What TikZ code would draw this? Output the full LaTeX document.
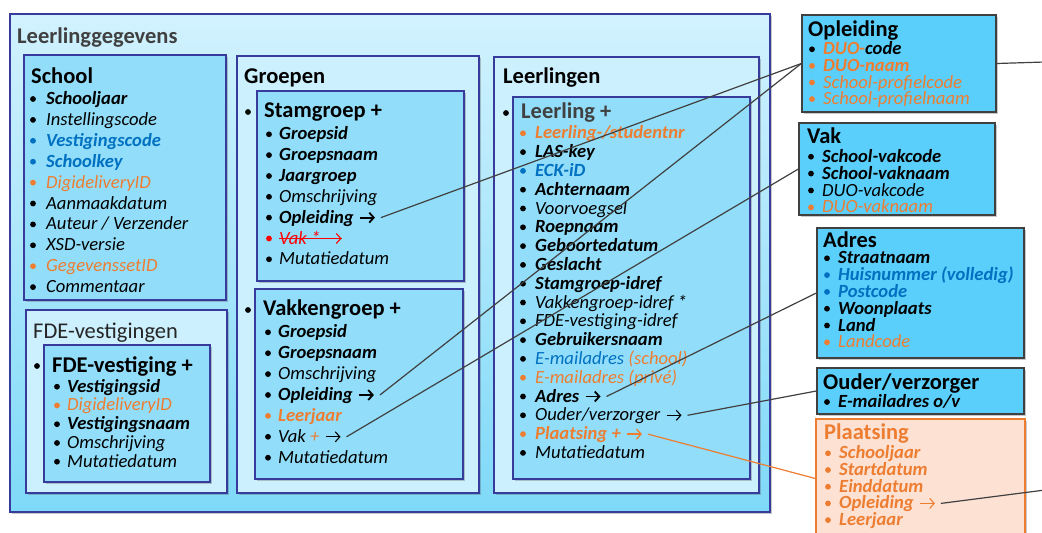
\documentclass[tikz,border=0pt]{standalone}
\usepackage{fontspec}
\setmainfont{Carlito}
\usetikzlibrary{arrows.meta,shadows,calc}
\definecolor{org}{HTML}{ED7D31}
\definecolor{blu}{HTML}{0070C0}
\definecolor{navy}{HTML}{363B9C}
\definecolor{dgray}{HTML}{404040}
\definecolor{midfill}{HTML}{CDF0FE}
\definecolor{entfill}{HTML}{92DEFA}
\definecolor{extfill}{HTML}{5BCFFB}
\definecolor{plfill}{HTML}{FDE1D3}
\definecolor{outtop}{HTML}{D2F2FE}
\definecolor{outbot}{HTML}{7ED9F8}
\newcommand\bi[1]{{\bfseries\itshape #1}}
\newcommand\ii[1]{{\itshape #1}}
\newcommand\itm[6]{\node[dot, fill=#5] (#1b) at (#2,#4-5.5) {};
  \node[txt] (#1) at (#3,#4) {#6};}
\newcommand\arrw[4]{\draw[#2, line width=#3, -{Straight Barb[length=4.5pt,width=10pt]}]
  ($(#1.base east)+(6,-5.5)$) -- ++(15,0) coordinate (#4tip);
  \coordinate (#4) at ($(#4tip)+(6,0)$);}
\tikzset{
  shd/.style={drop shadow={shadow xshift=1.5pt, shadow yshift=-1.5pt, opacity=0.3, fill=black!70}},
  bx/.style={rectangle, draw=navy, line width=1.3pt, inner sep=0pt, shd},
  ext/.style={rectangle, draw=dgray, line width=1.3pt, fill=extfill, inner sep=0pt, shd},
  dot/.style={circle, inner sep=0pt, minimum size=5.8pt, draw=none},
  txt/.style={anchor=base west, inner sep=0pt, font=\fontsize{18.6}{20}\selectfont},
  ttl/.style={anchor=base west, inner sep=0pt, font=\fontsize{22.5}{24}\selectfont\bfseries},
  conn/.style={draw=dgray, line width=1.2pt},
}
\begin{document}
\begin{tikzpicture}[x=1pt,y=-1pt]
\useasboundingbox (0,0) rectangle (1042,533);
% boxes
\node[bx, line width=1.5pt, top color=outtop, bottom color=outbot, minimum width=760pt, minimum height=498pt] (outer) at (390,263) {};
\node[bx, fill=entfill, minimum width=202pt, minimum height=245pt] (school) at (125,177.5) {};
\node[bx, fill=midfill, minimum width=201pt, minimum height=183pt] (fdeg) at (126.5,401.5) {};
\node[bx, fill=entfill, minimum width=166pt, minimum height=137pt] (fde) at (127,413.5) {};
\node[bx, fill=midfill, minimum width=242pt, minimum height=437pt] (groepen) at (358,274.5) {};
\node[bx, fill=entfill, minimum width=207pt, minimum height=190pt] (stam) at (360.5,186) {};
\node[bx, fill=entfill, minimum width=208pt, minimum height=190pt] (vakg) at (359,384) {};
\node[bx, fill=midfill, minimum width=265pt, minimum height=436pt] (leerlingen) at (626.5,275) {};
\node[bx, fill=entfill, minimum width=237pt, minimum height=382pt] (leerling) at (631.5,288) {};
\node[ext, minimum width=194pt, minimum height=97pt] (opl) at (899,63.5) {};
\node[ext, minimum width=196pt, minimum height=92pt] (vak) at (897,169) {};
\node[ext, minimum width=207pt, minimum height=130pt] (adres) at (920.5,293) {};
\node[ext, minimum width=207pt, minimum height=46pt] (ouder) at (920.5,391) {};
\node[rectangle, draw=org, line width=1.3pt, fill=plfill, inner sep=0pt, shd, minimum width=209pt, minimum height=119pt] (plaats) at (920.5,478.5) {};
% titles
\node[ttl, text=dgray] (tLg) at (17,43) {Leerlinggegevens};
\node[ttl] (tSchool) at (31,83) {School};
\node[ttl, font=\fontsize{22.5}{24}\selectfont, text=black!85] (tFdeg) at (33,338) {FDE-vestigingen};
\node[dot, fill=black] (bFde) at (37,366) {};
\node[ttl] (tFde) at (52,372) {FDE-vestiging +};
\node[ttl] (tGroepen) at (244,83) {Groepen};
\node[dot, fill=black] (bStam) at (248,112) {};
\node[ttl] (tStam) at (264,117) {Stamgroep +};
\node[dot, fill=black] (bVakg) at (248,310) {};
\node[ttl] (tVakg) at (263,315) {Vakkengroep +};
\node[ttl] (tLln) at (503,83) {Leerlingen};
\node[dot, fill=black] (bLl) at (506,113) {};
\node[ttl, text=dgray] (tLl) at (521,118) {Leerling +};
\node[ttl] (tOpl) at (808,36) {Opleiding};
\node[ttl] (tVak) at (807,143) {Vak};
\node[ttl] (tAdres) at (823,247) {Adres};
\node[ttl] (tOuder) at (823,389) {Ouder/verzorger};
\node[ttl, text=org] (tPl) at (824,439.5) {Plaatsing};
% School
\itm{s1}{33}{46}{104.5}{black}{\bi{Schooljaar}}
\itm{s2}{33}{46}{125.4}{black}{\ii{Instellingscode}}
\itm{s3}{33}{46}{146.3}{blu}{\color{blu}\bi{Vestigingscode}}
\itm{s4}{33}{46}{167.2}{blu}{\color{blu}\bi{Schoolkey}}
\itm{s5}{33}{46}{188.1}{org}{\color{org}\ii{DigideliveryID}}
\itm{s6}{33}{46}{209.0}{black}{\ii{Aanmaakdatum}}
\itm{s7}{33}{46}{229.9}{black}{\ii{Auteur / Verzender}}
\itm{s8}{33}{46}{250.8}{black}{\ii{XSD-versie}}
\itm{s9}{33}{46}{271.7}{org}{\color{org}\ii{GegevenssetID}}
\itm{s10}{33}{46}{292.6}{black}{\ii{Commentaar}}
% FDE
\itm{f1}{57}{67}{392.2}{black}{\bi{Vestigingsid}}
\itm{f2}{57}{67}{410.95}{org}{\color{org}\ii{DigideliveryID}}
\itm{f3}{57}{67}{429.7}{black}{\bi{Vestigingsnaam}}
\itm{f4}{57}{67}{448.45}{black}{\ii{Omschrijving}}
\itm{f5}{57}{67}{467.2}{black}{\ii{Mutatiedatum}}
% Stamgroep
\itm{g1}{269}{279}{139.8}{black}{\bi{Groepsid}}
\itm{g2}{269}{279}{160.6}{black}{\bi{Groepsnaam}}
\itm{g3}{269}{279}{181.5}{black}{\bi{Jaargroep}}
\itm{g4}{269}{279}{202.3}{black}{\ii{Omschrijving}}
\itm{g5}{269}{279}{223.1}{black}{\bi{Opleiding}}
\itm{g6}{269}{279}{244.0}{red}{\color{red}\ii{Vak *}}
\itm{g7}{269}{279}{264.8}{black}{\ii{Mutatiedatum}}
\arrw{g5}{black}{1.8pt}{cStamOpl}
\arrw{g6}{red}{1.1pt}{cStamVak}
\draw[red, line width=1.1pt] ($(g6.base west)+(0,-5.5)$) -- (cStamVaktip);
% Vakkengroep
\itm{v1}{268}{278}{337.8}{black}{\bi{Groepsid}}
\itm{v2}{268}{278}{358.7}{black}{\bi{Groepsnaam}}
\itm{v3}{268}{278}{379.6}{black}{\ii{Omschrijving}}
\itm{v4}{268}{278}{400.5}{black}{\bi{Opleiding}}
\itm{v5}{268}{278}{421.4}{org}{\color{org}\bi{Leerjaar}}
\itm{v6}{268}{278}{442.3}{black}{\ii{Vak \textcolor{org}{+}}}
\itm{v7}{268}{278}{463.2}{black}{\ii{Mutatiedatum}}
\arrw{v4}{black}{1.8pt}{cVakgOpl}
\arrw{v6}{black}{1.1pt}{cVakgVak}
% Leerling
\itm{l1}{523}{535}{138.8}{org}{\color{org}\bi{Leerling-/studentnr}}
\itm{l2}{523}{535}{157.6}{black}{\bi{LAS-key}}
\itm{l3}{523}{535}{176.4}{blu}{\color{blu}\bi{ECK-iD}}
\itm{l4}{523}{535}{195.2}{black}{\bi{Achternaam}}
\itm{l5}{523}{535}{214.0}{black}{\ii{Voorvoegsel}}
\itm{l6}{523}{535}{232.8}{black}{\bi{Roepnaam}}
\itm{l7}{523}{535}{251.6}{black}{\bi{Geboortedatum}}
\itm{l8}{523}{535}{270.4}{black}{\bi{Geslacht}}
\itm{l9}{523}{535}{289.2}{black}{\bi{Stamgroep-idref}}
\itm{l10}{523}{535}{308.0}{black}{\ii{Vakkengroep-idref *}}
\itm{l11}{523}{535}{326.8}{black}{\ii{FDE-vestiging-idref}}
\itm{l12}{523}{535}{345.6}{black}{\bi{Gebruikersnaam}}
\itm{l13}{523}{535}{364.4}{black}{\ii{\textcolor{blu}{E-mailadres} \textcolor{org}{(school)}}}
\itm{l14}{523}{535}{383.2}{org}{\color{org}\ii{E-mailadres (privé)}}
\itm{l15}{523}{535}{402.0}{black}{\bi{Adres}}
\itm{l16}{523}{535}{420.8}{black}{\ii{Ouder/verzorger}}
\itm{l17}{523}{535}{439.6}{org}{\color{org}\bi{Plaatsing +}}
\itm{l18}{523}{535}{458.4}{black}{\ii{Mutatiedatum}}
\arrw{l15}{black}{1.8pt}{cAdres}
\arrw{l16}{black}{1.1pt}{cOuder}
\arrw{l17}{org}{1.3pt}{cPlaats}
% Opleiding
\itm{o1}{812}{823}{54.8}{black}{\bi{\textcolor{org}{DUO-}code}}
\itm{o2}{812}{823}{71.4}{org}{\color{org}\bi{DUO-naam}}
\itm{o3}{812}{823}{88.0}{org}{\color{org}\ii{School-profielcode}}
\itm{o4}{812}{823}{104.6}{org}{\color{org}\ii{School-profielnaam}}
% Vak
\itm{k1}{811}{822}{162.2}{black}{\bi{School-vakcode}}
\itm{k2}{811}{822}{179.1}{black}{\bi{School-vaknaam}}
\itm{k3}{811}{822}{196.0}{black}{\ii{DUO-vakcode}}
\itm{k4}{811}{822}{212.9}{org}{\color{org}\ii{DUO-vaknaam}}
% Adres
\itm{a1}{827}{838}{263.8}{black}{\bi{Straatnaam}}
\itm{a2}{827}{838}{280.6}{blu}{\color{blu}\bi{Huisnummer (volledig)}}
\itm{a3}{827}{838}{297.4}{blu}{\color{blu}\bi{Postcode}}
\itm{a4}{827}{838}{314.2}{black}{\bi{Woonplaats}}
\itm{a5}{827}{838}{331.0}{black}{\bi{Land}}
\itm{a6}{827}{838}{347.8}{org}{\color{org}\ii{Landcode}}
% Ouder
\itm{u1}{827}{838}{407.5}{black}{\bi{E-mailadres o/v}}
% Plaatsing
\itm{p1}{828}{839}{458.8}{org}{\color{org}\bi{Schooljaar}}
\itm{p2}{828}{839}{475.5}{org}{\color{org}\bi{Startdatum}}
\itm{p3}{828}{839}{492.2}{org}{\color{org}\bi{Einddatum}}
\itm{p4}{828}{839}{508.9}{org}{\color{org}\bi{Opleiding}}
\itm{p5}{828}{839}{525.6}{org}{\color{org}\bi{Leerjaar}}
\arrw{p4}{org}{1.1pt}{cPlOpl}
% connectors
\coordinate (oplOut) at (1045,62);
\coordinate (plOut) at (1045,490);
\draw[conn] (cStamOpl) -- (opl.west);
\draw[conn] (cVakgOpl) -- (opl.west);
\draw[conn] (cVakgVak) -- (vak.west);
\draw[conn] (cAdres) -- (adres.west);
\draw[conn] (cOuder) -- (ouder.west);
\draw[conn, draw=org] (cPlaats) -- (plaats.west);
\draw[conn] (opl.east) -- (oplOut);
\draw[conn] (cPlOpl) -- (plOut);
\end{tikzpicture}
\end{document}
